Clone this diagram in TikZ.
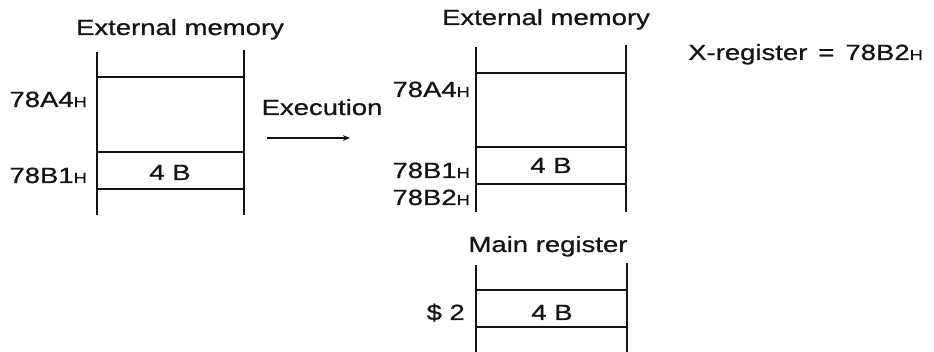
\documentclass[tikz,border=0pt]{standalone}
\usepackage{fontspec}
\setmainfont{Liberation Sans}[FakeStretch=1.25,FakeBold=0.8]
\usepackage{tikz}
\usetikzlibrary{arrows.meta,positioning}
\definecolor{ink}{RGB}{20,20,20}
\newcommand{\hx}{{\fontsize{14.5}{14.5}\selectfont H}}

\begin{document}
\begin{tikzpicture}[x=1pt,y=-1pt,
  every node/.style={font=\fontsize{22}{22}\selectfont,text=ink,inner sep=0pt},
  wall/.style={draw=ink,line width=1.2pt},
  lab/.style={anchor=base east},
  ttl/.style={anchor=base},
  fl/.style={-{Stealth[length=2.5mm,width=2mm]},draw=ink,line width=1.6pt}]
  \useasboundingbox (0,0) rectangle (934,352);
  % left column : memory before execution
  \node[ttl] (memA) at (180,35) {External memory};
  \draw[wall] (97,52) -- (97,215) (244,50) -- (244,215);
  \draw[wall] (97,77) -- (244,77) (97,152) -- (244,152) (97,189) -- (244,189);
  \node[lab] (a4A) at (87,107) {78A4\hx};
  \node[lab] (b1A) at (87,183) {78B1\hx};
  \node[ttl] (valA) at (170,180) {4 B};
  % middle : the step
  \node[ttl] (exe) at (322,115) {Execution};
  \coordinate (exL) at (267,138);
  \coordinate (exR) at (350,138);
  \draw[fl] (exL) -- (exR);
  % right column : memory after execution
  \node[ttl] (memB) at (546,25) {External memory};
  \draw[wall] (476,47) -- (476,212) (626,45) -- (626,212);
  \draw[wall] (476,73) -- (626,73) (476,147) -- (626,147) (476,184) -- (626,184);
  \node[lab] (a4B) at (470,97) {78A4\hx};
  \node[lab] (b1B) at (470,178) {78B1\hx};
  \node[lab] (b2B) at (470,205) {78B2\hx};
  \node[ttl] (valB) at (551,173) {4 B};
  \node[anchor=base west] (xreg) at (688,60) {X-register\enspace=\enspace 78B2\hx};
  % main register
  \node[ttl] (mreg) at (548,252) {Main register};
  \draw[wall] (476,265) -- (476,352) (627,263) -- (627,352);
  \draw[wall] (476,290) -- (627,290) (476,327) -- (627,327);
  \node[lab] (dol) at (465,320) {\$ 2};
  \node[ttl] (valC) at (552,320) {4 B};
\end{tikzpicture}
\end{document}
